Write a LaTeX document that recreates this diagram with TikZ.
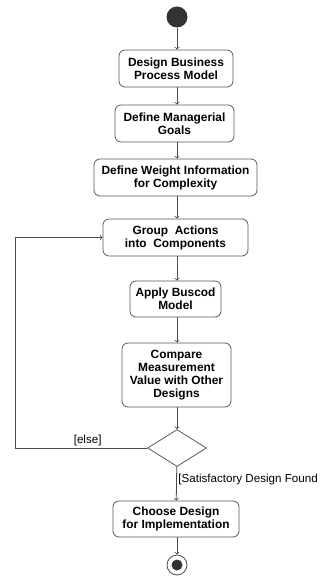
\documentclass[tikz,border=0pt]{standalone}
\usepackage{fontspec}
\setmainfont{Liberation Sans}
\usetikzlibrary{arrows,shapes.geometric,positioning}

\begin{document}
\begin{tikzpicture}[x=1pt,y=-1pt,
	act/.style={draw=black!65, line width=.8pt, rounded corners=6pt, align=center, inner sep=1pt,
		font=\bfseries\fontsize{11.9}{13}\selectfont, minimum height=37pt},
	flow/.style={draw=black!70, line width=.8pt, ->, >=to},
	guard/.style={font=\fontsize{11.6}{12}\selectfont, inner sep=1.5pt}]
			\useasboundingbox (0,0) rectangle (320,577);

			\node[circle, fill=black!80, minimum size=21pt, inner sep=0] (start) at (177,17) {};

			\node[act, minimum width=114pt] (design) at (176,68.5) {Design Business\\Process Model};
			\node[act, minimum width=119pt] (goals) at (174.5,123.5) {Define Managerial\\Goals};
			\node[act, minimum width=163pt] (weight) at (175.5,177.5) {Define Weight Information\\for Complexity};
			\node[act, minimum width=145pt] (group) at (175.5,237.5) {Group\ \ Actions\\into\ \ Components};
			\node[act, minimum width=91pt, minimum height=36pt] (apply) at (175.5,299) {Apply Buscod\\Model};
			\node[act, minimum width=109pt, minimum height=64pt] (compare) at (176.5,375) {Compare\\Measurement\\Value with Other\\Designs};
			\node[diamond, draw=black!65, line width=.8pt, minimum width=59pt, minimum height=37pt, inner sep=0] (check) at (177,448) {};
			\node[act, minimum width=126pt, minimum height=36pt] (choose) at (176,519) {Choose Design\\for Implementation};

			\node[circle, draw=black!70, line width=.8pt, minimum size=20pt, inner sep=0] (stop) at (177,565) {};
			\fill[black!80] (stop) circle (5.5);

			\coordinate (back) at (15,448);

			\draw[flow] (start) -- (start |- design.north);
			\draw[flow] (start |- design.south) -- (start |- goals.north);
			\draw[flow] (start |- goals.south) -- (start |- weight.north);
			\draw[flow] (start |- weight.south) -- (start |- group.north);
			\draw[flow] (start |- group.south) -- (start |- apply.north);
			\draw[flow] (start |- apply.south) -- (start |- compare.north);
			\draw[flow] (start |- compare.south) -- (check);
			\draw[flow] (check) -- node[guard, right, pos=.38] {[Satisfactory Design Found} (choose);
			\draw[flow] (start |- choose.south) -- (stop);

			\draw[flow] (check) -- node[guard, above, pos=.45] {[else]} (back) |- (group);
\end{tikzpicture}
\end{document}
